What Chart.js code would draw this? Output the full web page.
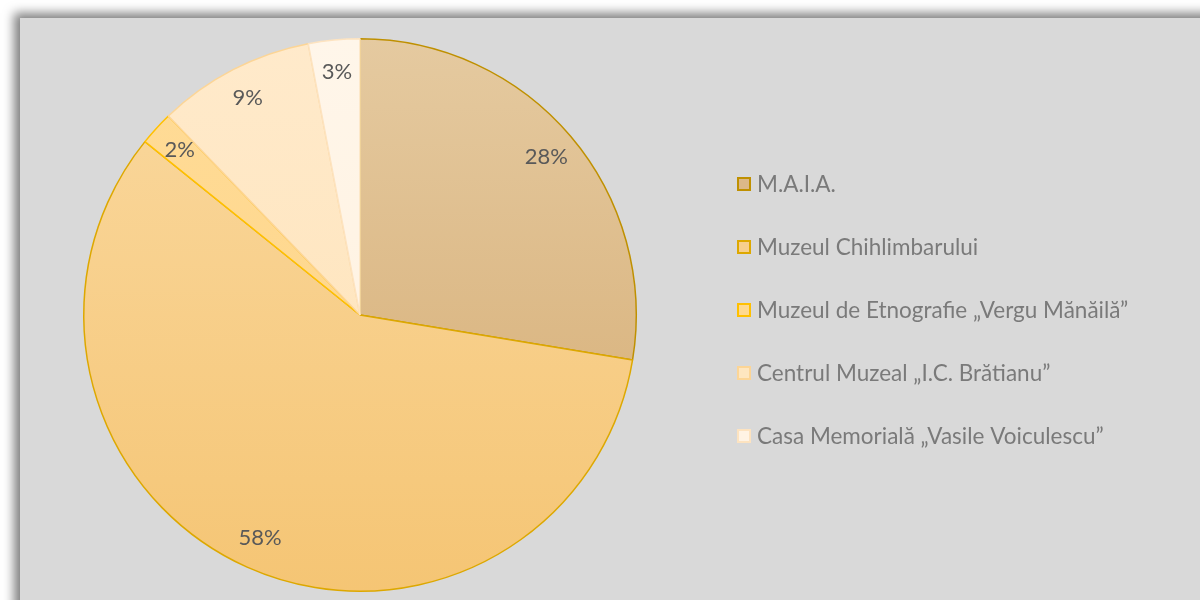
<!DOCTYPE html>
<html>
<head>
<meta charset="utf-8">
<script src="https://cdn.jsdelivr.net/npm/chart.js@4.4.0/dist/chart.umd.min.js"></script>
<style>
  html, body { margin: 0; padding: 0; background: #ffffff; overflow: hidden; }
  #panel {
    position: absolute; left: 20px; top: 18px; width: 1200px; height: 600px;
    background: #d9d9d9;
    box-shadow: -4px -3px 10px 2px rgba(0, 0, 0, 0.5);
  }
  #wrap { position: absolute; left: 0; top: 0; width: 1200px; height: 600px; }
</style>
</head>
<body>
<div id="panel"></div>
<div id="wrap"><canvas id="museumChart" width="1200" height="600"></canvas></div>
<script>
const museums = [
  'M.A.I.A.',
  'Muzeul Chihlimbarului',
  'Muzeul de Etnografie \u201eVergu M\u0103n\u0103il\u0103\u201d',
  'Centrul Muzeal \u201eI.C. Br\u0103tianu\u201d',
  'Casa Memorial\u0103 \u201eVasile Voiculescu\u201d'
];
const shares = [27.6, 58.2, 2.0, 9.2, 3.0];

const fillTop = ['#e5caa0', '#fad9a0', '#ffdc98', '#ffeacb', '#fff6ea'];
const fillBottom = ['#d4aa70', '#f5c574', '#fed384', '#fee2b6', '#fff0dc'];
const legendFill = ['#dcb888', '#f7cf8c', '#ffd98e', '#fee6c0', '#fff3e4'];
const edgeColors = ['#bf9000', '#dda800', '#ffc000', '#fcd596', '#fde3c0'];

function gradientFill(c) {
  const {ctx, chartArea} = c.chart;
  const i = c.dataIndex;
  if (!chartArea) return legendFill[i];
  const g = ctx.createLinearGradient(0, chartArea.top, 0, chartArea.bottom);
  g.addColorStop(0, fillTop[i]);
  g.addColorStop(1, fillBottom[i]);
  return g;
}

// percent labels placed inside each slice
const sliceLabels = {
  id: 'sliceLabels',
  afterDatasetsDraw(chart) {
    const ctx = chart.ctx;
    const meta = chart.getDatasetMeta(0);
    const total = shares.reduce((a, b) => a + b, 0);
    ctx.save();
    ctx.font = '22px Lato';
    ctx.fillStyle = '#595959';
    ctx.textAlign = 'center';
    ctx.textBaseline = 'middle';
    meta.data.forEach((arc, i) => {
      const mid = (arc.startAngle + arc.endAngle) / 2;
      const r = arc.outerRadius * 0.885;
      const x = arc.x + Math.cos(mid) * r;
      const y = arc.y + Math.sin(mid) * r;
      ctx.fillText(Math.round(shares[i] / total * 100) + '%', x, y);
    });
    ctx.restore();
  }
};

// legend drawn on the right, one row per museum
const sideLegend = {
  id: 'sideLegend',
  afterDraw(chart) {
    const ctx = chart.ctx;
    ctx.save();
    ctx.font = '22.5px Lato';
    ctx.textBaseline = 'middle';
    museums.forEach((name, i) => {
      const y = 184 + i * 63;
      ctx.fillStyle = legendFill[i];
      ctx.fillRect(738, y - 6, 12, 12);
      ctx.strokeStyle = edgeColors[i];
      ctx.lineWidth = 2;
      ctx.strokeRect(738, y - 6, 12, 12);
      ctx.fillStyle = '#7a7a7a';
      ctx.fillText(name, 757, y + 1);
    });
    ctx.restore();
  }
};

const ctx = document.getElementById('museumChart').getContext('2d');
new Chart(ctx, {
  type: 'pie',
  data: {
    labels: museums,
    datasets: [{
      data: shares,
      backgroundColor: gradientFill,
      borderColor: edgeColors,
      borderWidth: 1.5,
      hoverOffset: 0,
    }]
  },
  options: {
    responsive: false,
    animation: false,
    layout: {
      padding: { left: 83, right: 563, top: 38, bottom: 8 }
    },
    plugins: {
      legend: { display: false },
      tooltip: { enabled: false },
    },
  },
  plugins: [sliceLabels, sideLegend]
});
</script>
</body>
</html>
